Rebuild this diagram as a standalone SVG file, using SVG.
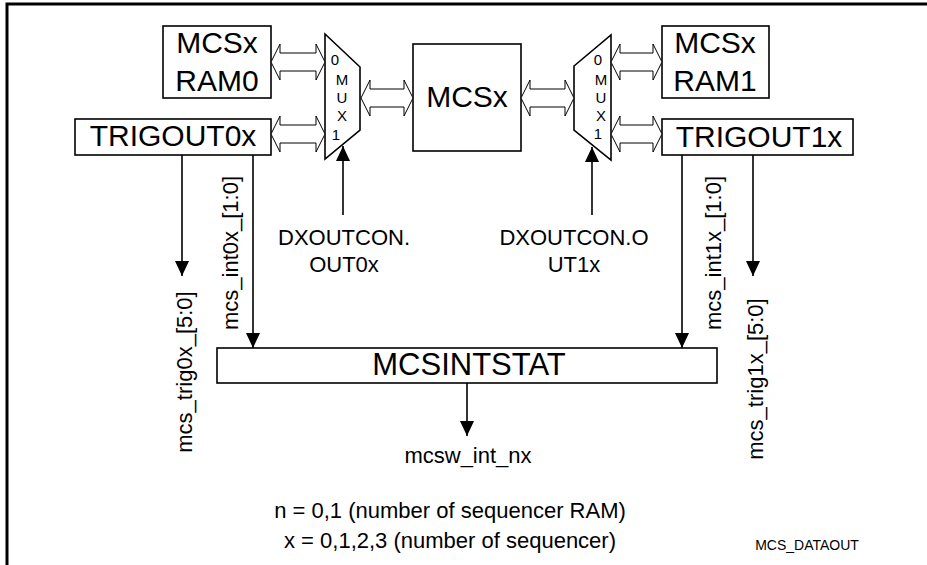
<svg xmlns="http://www.w3.org/2000/svg" width="927" height="565" viewBox="0 0 927 565">
<style>
text{font-family:"Liberation Sans",Arial,sans-serif;fill:#000}
.box{fill:#fff;stroke:#000;stroke-width:1.6}
.dbl{fill:#fff;stroke:#000;stroke-width:1}
.wire{fill:none;stroke:#000;stroke-width:1.6}
.big{font-size:30px;text-anchor:middle}
.mid{font-size:22px;text-anchor:middle}
.mux{font-size:15px;text-anchor:middle}
</style>
<defs>
<marker id="ah" markerUnits="userSpaceOnUse" markerWidth="16" markerHeight="14" refX="15" refY="7" orient="auto">
<path d="M0,0 L15,7 L0,14 z" fill="#000"/>
</marker>
</defs>
<path d="M7,565 V4 H927" fill="none" stroke="#000" stroke-width="3"/>

<g id="ram0"><rect class="box" x="163" y="26" width="108" height="72"/><text class="big" x="217" y="53">MCSx</text><text class="big" x="217" y="91">RAM0</text></g>
<g id="trigout0"><rect class="box" x="75" y="119" width="196" height="36"/><text class="big" x="173" y="146">TRIGOUT0x</text></g>
<g id="mux0"><polygon class="box" points="325,34 360,67 360,130 325,159"/><text class="mux" x="335" y="65">0</text><text class="mux" x="342" y="85">M</text><text class="mux" x="342" y="103">U</text><text class="mux" x="342" y="121">X</text><text class="mux" x="336" y="140">1</text></g>
<g id="mcsx"><rect class="box" x="413" y="44" width="108" height="107"/><text class="big" x="467" y="107">MCSx</text></g>
<g id="mux1"><polygon class="box" points="574,66 611,35 611,160 574,130"/><text class="mux" x="598" y="65">0</text><text class="mux" x="601" y="85">M</text><text class="mux" x="601" y="103">U</text><text class="mux" x="601" y="121">X</text><text class="mux" x="598" y="139">1</text></g>
<g id="ram1"><rect class="box" x="662" y="26" width="107" height="72"/><text class="big" x="715" y="53">MCSx</text><text class="big" x="715" y="91">RAM1</text></g>
<g id="trigout1"><rect class="box" x="662" y="119" width="191" height="36"/><text class="big" x="759" y="147">TRIGOUT1x</text></g>
<g id="mcsintstat"><rect class="box" x="217" y="348" width="500" height="35"/><text class="big" x="469" y="375" style="font-size:31px">MCSINTSTAT</text></g>

<g id="connectors">
<polygon class="dbl" points="271,62 280,44 280,53 316,53 316,44 325,62 316,80 316,71 280,71 280,80"/>
<polygon class="dbl" points="271,134 280,116 280,125 316,125 316,116 325,134 316,152 316,143 280,143 280,152"/>
<polygon class="dbl" points="361,98 370,80 370,89 404,89 404,80 413,98 404,116 404,107 370,107 370,116"/>
<polygon class="dbl" points="521,98 530,80 530,89 565,89 565,80 574,98 565,116 565,107 530,107 530,116"/>
<polygon class="dbl" points="611,62 620,44 620,53 653,53 653,44 662,62 653,80 653,71 620,71 620,80"/>
<polygon class="dbl" points="611,134 620,116 620,125 653,125 653,116 662,134 653,152 653,143 620,143 620,152"/>
<line class="wire" x1="182" y1="155" x2="182" y2="276" marker-end="url(#ah)"/>
<line class="wire" x1="253" y1="155" x2="253" y2="348" marker-end="url(#ah)"/>
<line class="wire" x1="682" y1="155" x2="682" y2="348" marker-end="url(#ah)"/>
<line class="wire" x1="753" y1="155" x2="753" y2="276" marker-end="url(#ah)"/>
<line class="wire" x1="343" y1="215" x2="343" y2="146" marker-end="url(#ah)"/>
<line class="wire" x1="592" y1="215" x2="592" y2="147" marker-end="url(#ah)"/>
<line class="wire" x1="467" y1="383" x2="467" y2="436" marker-end="url(#ah)"/>
</g>

<g id="labels">
<text class="mid" x="344" y="245">DXOUTCON.</text>
<text class="mid" x="344" y="272">OUT0x</text>
<text class="mid" x="574" y="245">DXOUTCON.O</text>
<text class="mid" x="574" y="272">UT1x</text>
<text class="mid" transform="translate(192,372) rotate(-90)">mcs_trig0x_[5:0]</text>
<text class="mid" transform="translate(238,253) rotate(-90)">mcs_int0x_[1:0]</text>
<text class="mid" transform="translate(721,253) rotate(-90)">mcs_int1x_[1:0]</text>
<text class="mid" transform="translate(763,379) rotate(-90)">mcs_trig1x_[5:0]</text>
<text class="mid" x="468" y="463">mcsw_int_nx</text>
<text class="mid" x="450" y="518">n = 0,1 (number of sequencer RAM)</text>
<text class="mid" x="450" y="548">x = 0,1,2,3 (number of sequencer)</text>
<text x="807" y="550" style="font-size:14px;text-anchor:middle">MCS_DATAOUT</text>
</g>
</svg>
